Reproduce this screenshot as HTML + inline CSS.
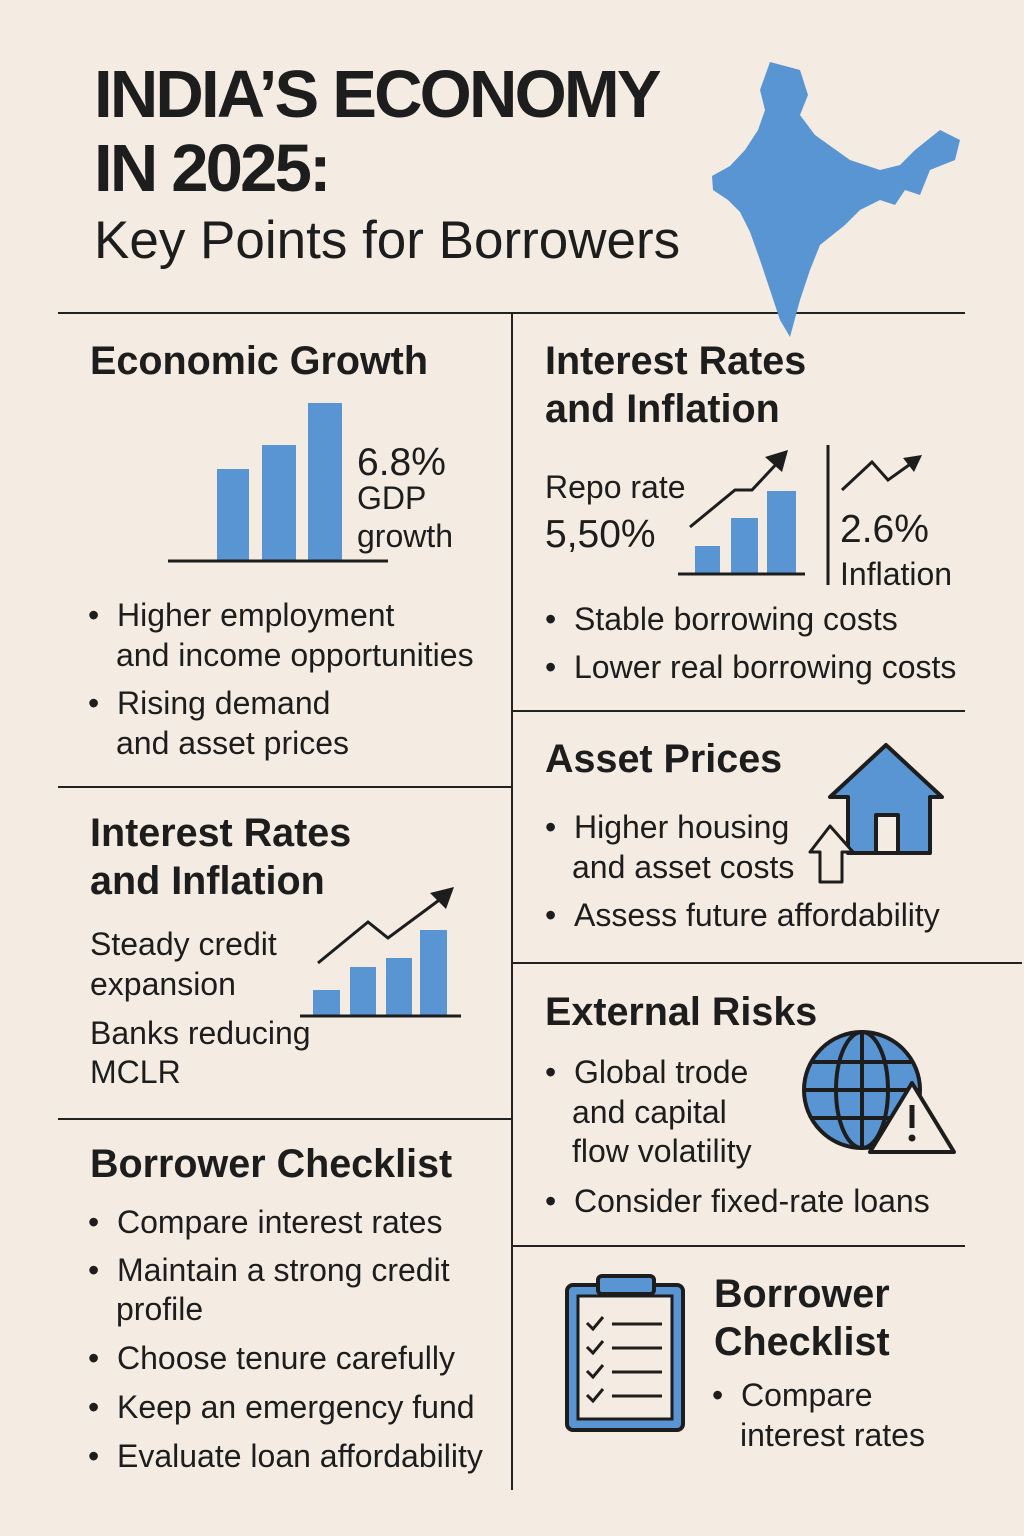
<!DOCTYPE html>
<html><head><meta charset="utf-8">
<style>
html,body{margin:0;padding:0}
body{width:1024px;height:1536px;background:#f4ece2;position:relative;overflow:hidden;font-family:"Liberation Sans","DejaVu Sans",sans-serif;color:#1d1d1d}
.t{position:absolute;white-space:nowrap;line-height:1}
.h{font-weight:bold;font-size:39.5px}
.b{font-size:32px}
.line{position:absolute;background:#222}
svg{position:absolute;left:0;top:0}
</style></head><body>
<div class="t" style="left:94px;top:61px;font-size:67px;font-weight:bold;letter-spacing:-2.8px">INDIA’S ECONOMY</div>
<div class="t" style="left:94px;top:135px;font-size:67px;font-weight:bold;letter-spacing:-2.8px">IN 2025:</div>
<div class="t" style="left:94px;top:214px;font-size:53px">Key Points for Borrowers</div>

<div class="line" style="left:58px;top:312px;width:907px;height:2px"></div>
<div class="line" style="left:511px;top:313px;width:2px;height:1177px"></div>
<div class="line" style="left:58px;top:786px;width:454px;height:2px"></div>
<div class="line" style="left:58px;top:1118px;width:454px;height:2px"></div>
<div class="line" style="left:512px;top:710px;width:453px;height:2px"></div>
<div class="line" style="left:512px;top:962px;width:510px;height:2px"></div>
<div class="line" style="left:512px;top:1245px;width:453px;height:2px"></div>

<svg width="1024" height="1536" viewBox="0 0 1024 1536">
<path fill="#5a95d3" d="M770,62 L800,70 L808,95 L800,115 L815,135 L850,160 L880,170 L900,165 L915,150 L940,130 L960,140 L955,160 L930,170 L920,195 L905,190 L895,205 L880,200 L860,210 L845,225 L820,245 L810,270 L800,300 L790,337 L780,320 L770,290 L760,260 L750,232 L740,212 L728,200 L713,190 L712,176 L730,166 L745,150 L758,130 L765,110 L760,90 Z"/>
<g fill="#5a95d3">
<rect x="217" y="469" width="32" height="91"/><rect x="262" y="445" width="34" height="115"/><rect x="308" y="403" width="34" height="157"/>
<rect x="313" y="990" width="27" height="25"/><rect x="350" y="967" width="26" height="48"/><rect x="386" y="958" width="26" height="57"/><rect x="420" y="930" width="27" height="85"/>
<rect x="695" y="546" width="25" height="27"/><rect x="731" y="518" width="27" height="55"/><rect x="767" y="491" width="29" height="82"/>
</g>
<g stroke="#1d1d1d" stroke-width="3" fill="none">
<line x1="168" y1="561" x2="388" y2="561"/>
<line x1="300" y1="1016" x2="461" y2="1016"/>
<line x1="678" y1="574" x2="805" y2="574"/>
<line x1="828" y1="445" x2="828" y2="585"/>
<polyline points="318,963 368,922 388,938 446,895"/>
<polyline points="690,527 735,490 752,490 782,458"/>
<polyline points="842,490 872,462 888,480 916,460"/>
</g>
<g fill="#1d1d1d">
<polygon points="454,887 430,893 446,909"/>
<polygon points="788,450 765,457 782,472"/>
<polygon points="922,455 903,458 914,472"/>
</g>
<g stroke="#1d1d1d" stroke-width="4" stroke-linejoin="round">
<polygon points="886,745 830,797 848,797 848,853 930,853 930,797 942,797" fill="#5a95d3"/>
<rect x="876" y="815" width="22" height="38" fill="#f4ece2"/>
<polygon points="830,826 810,852 820,852 820,882 842,882 842,852 853,852" fill="#f4ece2" stroke-width="3"/>
</g>
<g stroke="#1d1d1d" stroke-width="4" fill="none">
<circle cx="862" cy="1090" r="58" fill="#5a95d3"/>
<ellipse cx="862" cy="1090" rx="26" ry="58"/>
<line x1="862" y1="1032" x2="862" y2="1148"/>
<line x1="804" y1="1090" x2="920" y2="1090"/>
<line x1="812" y1="1062" x2="912" y2="1062"/>
<line x1="812" y1="1118" x2="912" y2="1118"/>
<polygon points="912,1083 870,1152 954,1152" fill="#f4ece2" stroke-linejoin="round"/>
<line x1="912" y1="1105" x2="912" y2="1128" stroke-width="5"/>
</g>
<circle cx="912" cy="1138" r="3.5" fill="#1d1d1d"/>
<g stroke="#1d1d1d" stroke-width="4">
<rect x="567" y="1285" width="116" height="145" rx="6" fill="#5a95d3"/>
<rect x="578" y="1296" width="94" height="123" fill="#f4ece2" stroke-width="3"/>
<rect x="598" y="1276" width="56" height="18" rx="4" fill="#5a95d3"/>
<g fill="none" stroke-width="3">
<polyline points="587,1323 593,1329 603,1317"/><line x1="612" y1="1324" x2="662" y2="1324"/>
<polyline points="587,1347 593,1353 603,1341"/><line x1="612" y1="1348" x2="662" y2="1348"/>
<polyline points="587,1371 593,1377 603,1365"/><line x1="612" y1="1372" x2="662" y2="1372"/>
<polyline points="587,1395 593,1401 603,1389"/><line x1="612" y1="1396" x2="662" y2="1396"/>
</g>
</g>
</svg>

<div class="t h" style="left:90px;top:342px">Economic Growth</div>
<div class="t" style="left:357px;top:443px;font-size:39px">6.8%</div>
<div class="t" style="left:357px;top:482px;font-size:32px">GDP</div>
<div class="t" style="left:357px;top:520px;font-size:32px">growth</div>
<div class="t b" style="left:88px;top:599px">•&nbsp;&nbsp;Higher employment</div>
<div class="t b" style="left:116px;top:639px">and income opportunities</div>
<div class="t b" style="left:88px;top:687px">•&nbsp;&nbsp;Rising demand</div>
<div class="t b" style="left:116px;top:727px">and asset prices</div>

<div class="t h" style="left:90px;top:814px">Interest Rates</div>
<div class="t h" style="left:90px;top:862px">and Inflation</div>
<div class="t b" style="left:90px;top:928px">Steady credit</div>
<div class="t b" style="left:90px;top:968px">expansion</div>
<div class="t b" style="left:90px;top:1017px">Banks reducing</div>
<div class="t b" style="left:90px;top:1056px">MCLR</div>

<div class="t h" style="left:90px;top:1145px">Borrower Checklist</div>
<div class="t b" style="left:88px;top:1206px">•&nbsp;&nbsp;Compare interest rates</div>
<div class="t b" style="left:88px;top:1254px">•&nbsp;&nbsp;Maintain a strong credit</div>
<div class="t b" style="left:116px;top:1293px">profile</div>
<div class="t b" style="left:88px;top:1342px">•&nbsp;&nbsp;Choose tenure carefully</div>
<div class="t b" style="left:88px;top:1391px">•&nbsp;&nbsp;Keep an emergency fund</div>
<div class="t b" style="left:88px;top:1440px">•&nbsp;&nbsp;Evaluate loan affordability</div>

<div class="t h" style="left:545px;top:342px">Interest Rates</div>
<div class="t h" style="left:545px;top:390px">and Inflation</div>
<div class="t b" style="left:545px;top:471px">Repo rate</div>
<div class="t" style="left:545px;top:515px;font-size:39px">5,50%</div>
<div class="t" style="left:840px;top:510px;font-size:39px">2.6%</div>
<div class="t b" style="left:840px;top:558px">Inflation</div>
<div class="t b" style="left:545px;top:603px">•&nbsp;&nbsp;Stable borrowing costs</div>
<div class="t b" style="left:545px;top:651px">•&nbsp;&nbsp;Lower real borrowing costs</div>

<div class="t h" style="left:545px;top:740px">Asset Prices</div>
<div class="t b" style="left:545px;top:811px">•&nbsp;&nbsp;Higher housing</div>
<div class="t b" style="left:572px;top:851px">and asset costs</div>
<div class="t b" style="left:545px;top:899px">•&nbsp;&nbsp;Assess future affordability</div>

<div class="t h" style="left:545px;top:993px">External Risks</div>
<div class="t b" style="left:545px;top:1056px">•&nbsp;&nbsp;Global trode</div>
<div class="t b" style="left:572px;top:1096px">and capital</div>
<div class="t b" style="left:572px;top:1135px">flow volatility</div>
<div class="t b" style="left:545px;top:1185px">•&nbsp;&nbsp;Consider fixed-rate loans</div>

<div class="t h" style="left:714px;top:1275px">Borrower</div>
<div class="t h" style="left:714px;top:1323px">Checklist</div>
<div class="t b" style="left:712px;top:1379px">•&nbsp;&nbsp;Compare</div>
<div class="t b" style="left:740px;top:1419px">interest rates</div>
</body></html>
